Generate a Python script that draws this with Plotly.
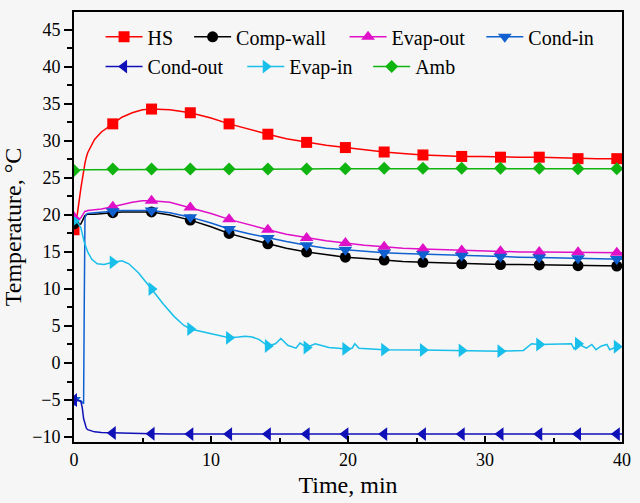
import plotly.graph_objects as go

# ---------------- data ----------------
t_line = [0, 0.25, 0.5, 0.6, 0.7, 0.75, 0.8, 0.9, 1.0, 1.5, 2.0, 2.83, 3.5, 4.25, 5.0,
          5.66, 7.0, 8.49, 10.0, 11.32, 12.7, 14.15, 15.5, 16.98, 18.4, 19.81, 21.2,
          22.64, 24.0, 25.47, 27.0, 28.3, 29.7, 31.13, 32.5, 33.96, 35.4, 36.79, 38.2,
          39.62, 40.0]

hs = [18.0, 20.2, 23.6, 24.9, 26.0, 26.5, 27.0, 27.8, 28.4, 30.2, 31.2, 32.3, 33.2, 33.8,
      34.2, 34.3, 34.2, 33.8, 33.1, 32.3, 31.6, 30.9, 30.3, 29.8, 29.4, 29.1, 28.8, 28.5,
      28.3, 28.1, 28.0, 27.9, 27.9, 27.8, 27.8, 27.8, 27.7, 27.6, 27.6, 27.6, 27.6]

comp_wall = [18.8, 18.6, 18.8, 19.2, 19.6, 19.8, 19.9, 20.0, 20.1, 20.1, 20.2, 20.3, 20.4,
             20.4, 20.4, 20.4, 20.0, 19.3, 18.4, 17.5, 16.8, 16.1, 15.5, 15.0, 14.6, 14.3,
             14.1, 13.9, 13.7, 13.6, 13.5, 13.4, 13.35, 13.3, 13.3, 13.25, 13.2, 13.15,
             13.15, 13.1, 13.1]

evap_out = [19.7, 19.4, 19.6, 19.9, 20.3, 20.4, 20.5, 20.5, 20.6, 20.7, 20.8, 21.1, 21.4,
            21.7, 21.9, 21.9, 21.7, 21.0, 20.2, 19.4, 18.7, 18.0, 17.4, 16.9, 16.5, 16.2,
            15.9, 15.7, 15.5, 15.4, 15.3, 15.2, 15.1, 15.1, 15.0, 15.0, 15.0, 14.95, 14.9,
            14.9, 14.9]

cond_in = [-5.0, -5.0, -5.1, -5.3, -5.5, 8.0, 19.6, 20.1, 20.2, 20.3, 20.4, 20.5, 20.6,
           20.6, 20.6, 20.6, 20.3, 19.7, 18.9, 18.1, 17.5, 16.9, 16.4, 15.9, 15.5, 15.3,
           15.1, 14.9, 14.8, 14.7, 14.6, 14.5, 14.4, 14.35, 14.3, 14.25, 14.2, 14.15, 14.1,
           14.05, 14.0]

cond_out = [-5.0, -5.0, -5.2, -6.0, -7.5, -7.9, -8.3, -8.8, -9.0, -9.3, -9.4, -9.45, -9.5,
            -9.5, -9.55, -9.55, -9.6, -9.6, -9.6, -9.6, -9.6, -9.6, -9.6, -9.6, -9.6, -9.6,
            -9.6, -9.6, -9.6, -9.6, -9.6, -9.6, -9.6, -9.6, -9.6, -9.6, -9.6, -9.6, -9.6,
            -9.6, -9.6]

amb = [26.0, 26.1, 26.1, 26.1, 26.1, 26.1, 26.1, 26.2, 26.2, 26.2, 26.2, 26.2, 26.2, 26.2,
       26.2, 26.2, 26.2, 26.2, 26.2, 26.2, 26.2, 26.2, 26.2, 26.2, 26.25, 26.25, 26.25,
       26.3, 26.3, 26.3, 26.3, 26.3, 26.3, 26.3, 26.3, 26.3, 26.3, 26.25, 26.25, 26.25,
       26.25]

t_evap_in = [0, 0.25, 0.5, 0.6, 0.75, 1.0, 1.3, 1.7, 2.2, 2.83, 3.5, 4.0, 4.7, 5.66, 6.5,
             7.3, 8.0, 8.49, 9.2, 10.0, 10.7, 11.32, 12.0, 12.5, 13.0, 13.5, 14.15, 14.7,
             15.1, 15.6, 16.2, 16.5, 16.98, 17.6, 18.0, 18.6, 19.3, 19.81, 20.3, 20.5, 20.8,
             22.64, 25.47, 28.3, 31.13, 32.8, 33.4, 33.96, 35.0, 36.3, 36.5, 36.79, 37.4,
             37.8, 38.1, 38.5, 38.9, 39.1, 39.62, 40.0]
evap_in = [19.2, 19.0, 18.3, 17.5, 16.3, 15.0, 14.0, 13.4, 13.3, 13.6, 13.8, 13.4, 12.2,
           10.0, 8.0, 6.3, 5.1, 4.6, 4.3, 3.9, 3.6, 3.4, 3.5, 3.6, 3.5, 3.2, 2.3, 2.6, 3.3,
           2.4, 2.0, 2.7, 2.1, 2.6, 2.4, 2.1, 2.0, 1.9, 2.0, 2.6, 2.0, 1.8, 1.75, 1.7, 1.6,
           1.7, 2.6, 2.5, 2.5, 2.6, 1.9, 2.6, 2.0, 2.5, 1.8, 2.3, 2.5, 1.8, 2.2, 2.2]

t_mark = [0, 2.83, 5.66, 8.49, 11.32, 14.15, 16.98, 19.81, 22.64, 25.47, 28.3, 31.13,
          33.96, 36.79, 39.62]

names = ["HS", "Comp-wall", "Evap-out", "Cond-in", "Cond-out", "Evap-in", "Amb"]
colors = ["#ff0000", "#000000", "#e010c8", "#1060d0", "#1010b8", "#18bfea", "#10b410"]
symbols = ["square", "circle", "triangle-up", "triangle-down", "triangle-left",
           "triangle-right", "diamond"]
msizes = [11, 11, 12, 12, 12, 12, 10]

series_t = [t_line, t_line, t_line, t_line, t_line, t_evap_in, t_line]
series_v = [hs, comp_wall, evap_out, cond_in, cond_out, evap_in, amb]

# legend text start (px) and row centre (px)
leg_text_x = [148, 238, 396, 535, 148, 292, 420]
leg_row_y = [37, 37, 37, 37, 67, 67, 67]

# ---------------- figure ----------------
W, H = 640, 503
ML, MR, MT, MB = 74, 9, 12, 58
PW, PH = W - ML - MR, H - MT - MB
FONT = "Liberation Serif"
ITEMW = 37

fig = go.Figure()
for i, name in enumerate(names):
    ts, vs = series_t[i], series_v[i]
    lk = "legend" if i == 0 else "legend%d" % (i + 1)
    fig.add_trace(go.Scatter(x=ts, y=vs, mode="lines", line=dict(color=colors[i], width=1.5),
                             showlegend=False, hoverinfo="skip"))
    lut = dict(zip(ts, vs))
    mx = [t for t in t_mark if t in lut]
    my = [lut[t] for t in mx]
    fig.add_trace(go.Scatter(x=mx, y=my, mode="markers",
                             marker=dict(symbol=symbols[i], size=msizes[i], color=colors[i]),
                             showlegend=False))
    fig.add_trace(go.Scatter(x=[None], y=[None], mode="lines+markers", name=name,
                             line=dict(color=colors[i], width=1.5),
                             marker=dict(symbol=symbols[i], size=msizes[i], color=colors[i]),
                             showlegend=True, legend=lk))

legends = {}
for i in range(len(names)):
    lk = "legend" if i == 0 else "legend%d" % (i + 1)
    legends[lk] = dict(x=(leg_text_x[i] - (ITEMW + 10) - ML) / PW,
                       y=(H - MB - leg_row_y[i]) / PH,
                       xanchor="left", yanchor="middle", orientation="h", itemwidth=ITEMW,
                       bgcolor="rgba(0,0,0,0)", borderwidth=0,
                       font=dict(family=FONT, size=20, color="black"))

fig.update_layout(
    width=W, height=H,
    margin=dict(l=ML, r=MR, t=MT, b=MB),
    paper_bgcolor="#f6f6f6", plot_bgcolor="#f6f6f6",
    font=dict(family=FONT, color="black"),
    **legends,
)
fig.update_xaxes(
    range=[0, 40], tickvals=[0, 10, 20, 30, 40], ticks="inside", ticklen=6, tickwidth=1.5,
    tickcolor="black", showline=True, linewidth=2, linecolor="black", mirror=True,
    showgrid=False, zeroline=False, tickfont=dict(family=FONT, size=18),
    minor=dict(tickvals=[5, 15, 25, 35], ticks="inside", ticklen=4, tickcolor="black"),
    title=dict(text="Time, min", font=dict(family=FONT, size=24), standoff=8),
)
fig.update_yaxes(
    range=[-10.67, 47.41], tickvals=[-10, -5, 0, 5, 10, 15, 20, 25, 30, 35, 40, 45],
    ticks="outside", ticklen=8, tickwidth=1.5, tickcolor="black", showline=True,
    linewidth=2, linecolor="black", mirror=True, showgrid=False, zeroline=False,
    tickfont=dict(family=FONT, size=18),
    minor=dict(tickvals=[-7.5, -2.5, 2.5, 7.5, 12.5, 17.5, 22.5, 27.5, 32.5, 37.5, 42.5, 47.5],
               ticks="outside", ticklen=5, tickcolor="black"),
    title=dict(text="Temperature, °C", font=dict(family=FONT, size=24), standoff=6),
)
fig.write_html("out.html")
